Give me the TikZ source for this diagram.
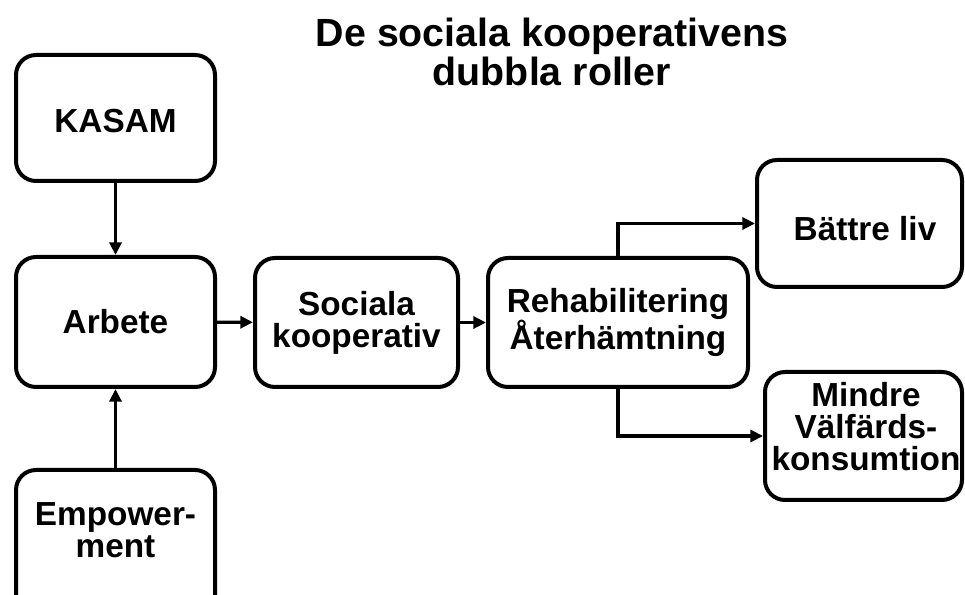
\documentclass[tikz,border=0pt]{standalone}
\usepackage{fontspec}
\setmainfont{Liberation Sans}
\usetikzlibrary{arrows.meta}
\begin{document}
\begin{tikzpicture}[x=0.75pt,y=-0.75pt,
  box/.style={draw=black, line width=3pt, rounded corners=15pt, fill=white,
    inner sep=0pt, align=center,
    font=\bfseries\fontsize{25}{24}\selectfont},
  boxtext/.style={inner sep=0pt, align=center,
    font=\bfseries\fontsize{25}{24}\selectfont},
  size/.style 2 args={minimum width=#1*0.75pt, minimum height=#2*0.75pt},
  arr/.style={draw=black, line width=2.4pt,
    -{Triangle[length=9.5pt,width=9pt]}},
  titletext/.style={align=center, inner sep=0pt,
    font=\bfseries\fontsize{29.5}{29}\selectfont}]
  \useasboundingbox (0,0) rectangle (965,595);

  % title
  \node[titletext] (title) at (552,52) {De sociala kooperativens\\dubbla roller};

  % left column
  \node[box, size={199}{126}] (kasam) at (115.5,118) {};
  \node[boxtext] (kasamtext) at (115.5,121) {KASAM};
  \node[box, size={199}{130}] (arbete) at (115.5,322) {Arbete};
  \node[box, size={199}{145}] (emp) at (115.5,542.5) {};
  \node[boxtext] (emptext) at (115.5,530) {Empower-\\ment};

  % middle chain
  \node[box, size={203}{129}] (sociala) at (356.5,322.5) {Sociala\\kooperativ};
  \node[box, size={260}{129}] (rehab) at (618,322.5) {Rehabilitering\\Återhämtning};

  % outcomes
  \node[box, size={205}{127}] (battre) at (859.5,223.5) {};
  \node[boxtext] (battretext) at (865,229) {Bättre liv};
  \node[box, size={197}{128}] (mindre) at (863.5,436) {};
  \node[boxtext] (mindretext) at (866,427) {Mindre\\Välfärds-\\konsumtion};

  % connectors
  \draw[arr] (kasam) -- (arbete);
  \draw[arr] (emp) -- (arbete);
  \draw[arr] (arbete) -- (sociala);
  \draw[arr] (sociala) -- (rehab);
  \draw[arr] (rehab.north) |- (battre.west);
  \draw[arr] (rehab.south) |- (mindre.west);
\end{tikzpicture}
\end{document}
